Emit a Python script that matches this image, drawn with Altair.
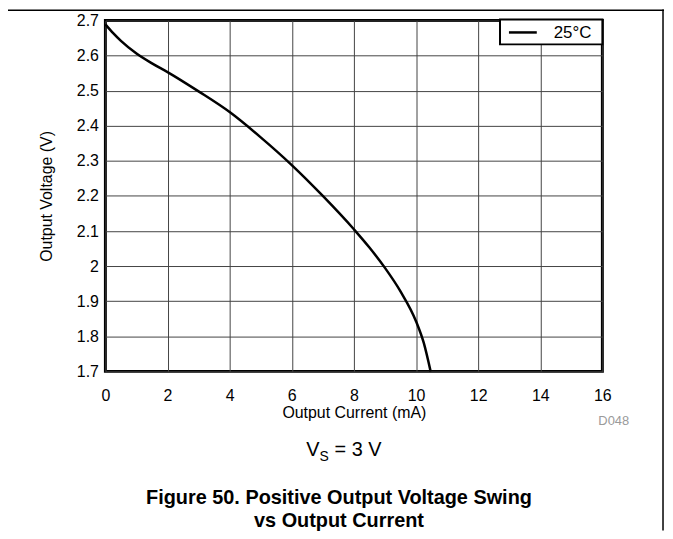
import altair as alt
import pandas as pd

# ---- data ----
current_ma = [0, 0.25, 0.5, 1, 1.5, 2, 3, 4, 5, 6, 7, 8, 8.5, 9, 9.5, 10, 10.25, 10.47]
voltage_v = [2.689, 2.664, 2.642, 2.606, 2.578, 2.553, 2.498, 2.439, 2.367, 2.288,
             2.200, 2.105, 2.053, 1.995, 1.928, 1.843, 1.781, 1.700]
x_ticks = [0, 2, 4, 6, 8, 10, 12, 14, 16]
y_ticks = [1.7, 1.8, 1.9, 2.0, 2.1, 2.2, 2.3, 2.4, 2.5, 2.6, 2.7]
series_labels = ["25°C"]
x_title = "Output Current (mA)"
y_title = "Output Voltage (V)"
figure_id = ["D048"]
cond_main = ["V"]
cond_sub = ["S"]
cond_rest = ["= 3 V"]
caption_lines = ["Figure 50. Positive Output Voltage Swing", "vs Output Current"]

FONT = "Liberation Sans"
W, H = 500, 353
PAD_L, PAD_T, PAD_R, PAD_B = 98, 11, 63, 160

df = pd.DataFrame({"I": current_ma, "V": voltage_v, "series": series_labels[0]})

line = alt.Chart(df).mark_line(color="black", strokeWidth=2.5, interpolate="monotone").encode(
    x=alt.X("I:Q",
            scale=alt.Scale(domain=[0, 16], nice=False),
            axis=alt.Axis(values=x_ticks, title=x_title, grid=True, ticks=False, tickSize=0,
                          domain=False, labelPadding=16, labelFontSize=16, titleFontSize=16,
                          labelFlush=False,
                          titleFontWeight="normal", titleY=41, titleBaseline="middle",
                          labelColor="black", titleColor="black",
                          gridColor="#444", gridWidth=1)),
    y=alt.Y("V:Q",
            scale=alt.Scale(domain=[1.7, 2.7], nice=False, zero=False),
            axis=alt.Axis(values=y_ticks, format="~g", title=y_title, grid=True, ticks=False,
                          tickSize=0, domain=False, labelPadding=7, labelFontSize=16,
                          labelFlush=False,
                          titleFontSize=16, titleFontWeight="normal", titleX=-59,
                          titleY=H / 2, titleAngle=270, titleAlign="center",
                          titleBaseline="middle", labelColor="black", titleColor="black",
                          gridColor="#444", gridWidth=1)),
)

leg_df = pd.DataFrame({"label": series_labels})
legend_box = alt.Chart(leg_df).mark_rect(fill="white", stroke="black", strokeWidth=2).encode(
    x=alt.value(397), x2=alt.value(500), y=alt.value(-1), y2=alt.value(24)
)
legend_line = alt.Chart(leg_df).mark_rule(color="black", strokeWidth=2.5).encode(
    x=alt.value(406), x2=alt.value(434), y=alt.value(12)
)
legend_text = alt.Chart(leg_df).mark_text(align="left", baseline="middle", fontSize=17,
                                          font=FONT, color="black").encode(
    text="label:N", x=alt.value(451), y=alt.value(12.5)
)

fid = alt.Chart(pd.DataFrame({"t": figure_id})).mark_text(
    align="right", baseline="middle", fontSize=13, font=FONT, color="#9a9a9a"
).encode(text="t:N", x=alt.value(527), y=alt.value(403))

v_main = alt.Chart(pd.DataFrame({"t": cond_main})).mark_text(
    align="left", baseline="alphabetic", fontSize=20, font=FONT, color="black"
).encode(text="t:N", x=alt.value(202), y=alt.value(438))
v_sub = alt.Chart(pd.DataFrame({"t": cond_sub})).mark_text(
    align="left", baseline="alphabetic", fontSize=14, font=FONT, color="black"
).encode(text="t:N", x=alt.value(215.5), y=alt.value(443))
v_rest = alt.Chart(pd.DataFrame({"t": cond_rest})).mark_text(
    align="left", baseline="alphabetic", fontSize=20, font=FONT, color="black"
).encode(text="t:N", x=alt.value(230.5), y=alt.value(438))

cap1 = alt.Chart(pd.DataFrame({"t": caption_lines[:1]})).mark_text(
    align="center", baseline="middle", fontSize=20, fontWeight="bold", font=FONT, color="black"
).encode(text="t:N", x=alt.value(235), y=alt.value(480))
cap2 = alt.Chart(pd.DataFrame({"t": caption_lines[1:]})).mark_text(
    align="center", baseline="middle", fontSize=20, fontWeight="bold", font=FONT, color="black"
).encode(text="t:N", x=alt.value(235), y=alt.value(504))

top_rule = alt.Chart(leg_df).mark_rule(color="black", strokeWidth=1.5).encode(
    x=alt.value(-PAD_L), x2=alt.value(W + PAD_R - 1), y=alt.value(-PAD_T + 0.75)
)
right_rule = alt.Chart(leg_df).mark_rule(color="black", strokeWidth=1.5).encode(
    x=alt.value(W + PAD_R - 2), y=alt.value(-PAD_T), y2=alt.value(H + PAD_B)
)

chart = alt.layer(
    line, legend_box, legend_line, legend_text, fid, v_main, v_sub, v_rest, cap1, cap2,
    top_rule, right_rule
).properties(
    width=W, height=H,
    autosize=alt.AutoSizeParams(type="none"),
    padding={"left": PAD_L, "top": PAD_T, "right": PAD_R, "bottom": PAD_B},
).configure(
    font=FONT,
).configure_view(
    stroke="black", strokeWidth=3
).configure_axis(
    labelFont=FONT, titleFont=FONT
)

chart.save("out.html", embed_options={"renderer": "svg", "actions": False})
